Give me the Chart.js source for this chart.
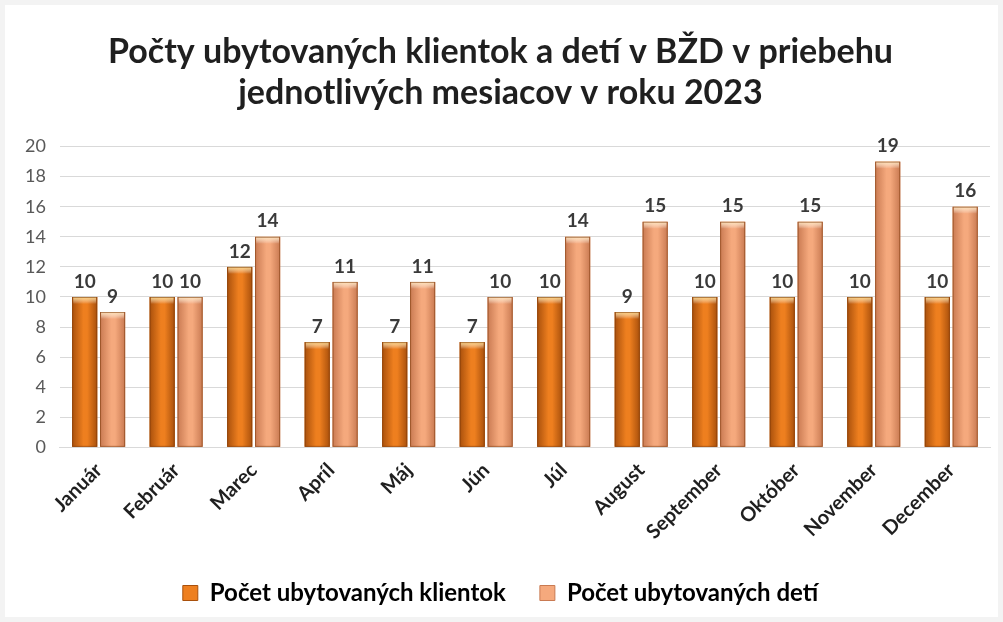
<!DOCTYPE html>
<html><head><meta charset="utf-8">
<script src="https://cdn.jsdelivr.net/npm/chart.js@4/dist/chart.umd.min.js"></script>
<style>
html,body{margin:0;padding:0;background:#f3f3f3;}
#wrap{position:absolute;left:5px;top:5px;width:993px;height:612px;background:#fff;}
canvas{display:block;}
</style></head>
<body><div id="wrap"><canvas id="c" width="993" height="612"></canvas></div>
<script>
const months = ['Január','Február','Marec','Apríl','Máj','Jún','Júl','August','September','Október','November','December'];
const klientky = [10,10,12,7,7,7,10,9,10,10,10,10];
const deti = [9,10,14,11,11,10,14,15,15,15,19,16];
const seriesNames = ['Počet ubytovaných klientok','Počet ubytovaných detí'];
const yTicks = {min:0,max:20,step:2};

const palettes = [
  {edge:'#a9500c', mid:'#ee7f1f', cap:'#f9d27f'},
  {edge:'#c97a52', mid:'#f5a97d', cap:'#fde0b4'}
];

const barPaint = {
  id:'barPaint',
  afterDatasetDraw(chart,args){
    const ctx = chart.ctx; const p = palettes[args.index];
    args.meta.data.forEach(el=>{
      const x0 = el.x - el.width/2, x1 = el.x + el.width/2, top = el.y, bot = el.base;
      const g = ctx.createLinearGradient(x0,0,x1,0);
      g.addColorStop(0,p.edge); g.addColorStop(0.45,p.mid); g.addColorStop(0.6,p.mid); g.addColorStop(1,p.edge);
      ctx.save();
      ctx.fillStyle = g; ctx.fillRect(x0,top,x1-x0,bot-top);
      const g2 = ctx.createLinearGradient(0,top,0,top+7);
      g2.addColorStop(0,p.cap); g2.addColorStop(1,'rgba(255,255,255,0)');
      ctx.fillStyle = g2; ctx.fillRect(x0+1,top,x1-x0-2,7);
      ctx.strokeStyle = 'rgba(120,55,10,0.55)'; ctx.lineWidth = 1;
      ctx.strokeRect(x0+0.5,top+0.5,x1-x0-1,bot-top-1);
      ctx.restore();
    });
  }
};

const valueLabels = {
  id:'valueLabels',
  afterDatasetsDraw(chart){
    const ctx = chart.ctx;
    ctx.save();
    ctx.font = 'bold 19px Lato, "Open Sans", sans-serif';
    ctx.fillStyle = '#3a3a3a'; ctx.textAlign='center'; ctx.textBaseline='bottom';
    chart.data.datasets.forEach((ds,i)=>{
      chart.getDatasetMeta(i).data.forEach((el,j)=>{
        ctx.fillText(String(ds.data[j]), el.x, el.y - 6);
      });
    });
    ctx.restore();
  }
};

new Chart(document.getElementById('c'),{
  type:'bar',
  data:{labels:months,datasets:[
    {label:seriesNames[0],data:klientky,backgroundColor:palettes[0].mid,borderWidth:0},
    {label:seriesNames[1],data:deti,backgroundColor:palettes[1].mid,borderWidth:0}
  ]},
  options:{
    responsive:false,animation:false,
    categoryPercentage:0.72,barPercentage:0.9,
    layout:{padding:{left:6,right:8,top:0,bottom:2}},
    plugins:{
      title:{display:true,text:['Počty ubytovaných klientok a detí v BŽD v priebehu','jednotlivých mesiacov v roku 2023'],
        font:{family:'Lato, "Open Sans", sans-serif',size:34,weight:'bold'},color:'#1f1f1f',padding:{top:27,bottom:33},lineHeight:1.38},
      legend:{position:'bottom',labels:{boxWidth:15,boxHeight:15,color:'#1a1a1a',padding:34,
        font:{family:'Lato, "Open Sans", sans-serif',size:24,weight:'bold'},
        generateLabels(chart){return chart.data.datasets.map((d,i)=>({text:d.label,fillStyle:palettes[i].mid,strokeStyle:palettes[i].edge,lineWidth:1,datasetIndex:i}));}}},
      tooltip:{enabled:false}
    },
    scales:{
      x:{grid:{display:false},border:{display:true,color:'#d9d9d9'},
        ticks:{maxRotation:45,minRotation:45,padding:3,color:'#1f1f1f',font:{family:'Lato, "Open Sans", sans-serif',size:20,weight:'bold'}}},
      y:{min:yTicks.min,max:yTicks.max,grid:{color:'#d9d9d9',drawTicks:false},border:{display:false},
        ticks:{stepSize:yTicks.step,padding:14,color:'#595959',font:{family:'Lato, "Open Sans", sans-serif',size:18}}}
    }
  },
  plugins:[barPaint,valueLabels]
});
</script></body></html>
